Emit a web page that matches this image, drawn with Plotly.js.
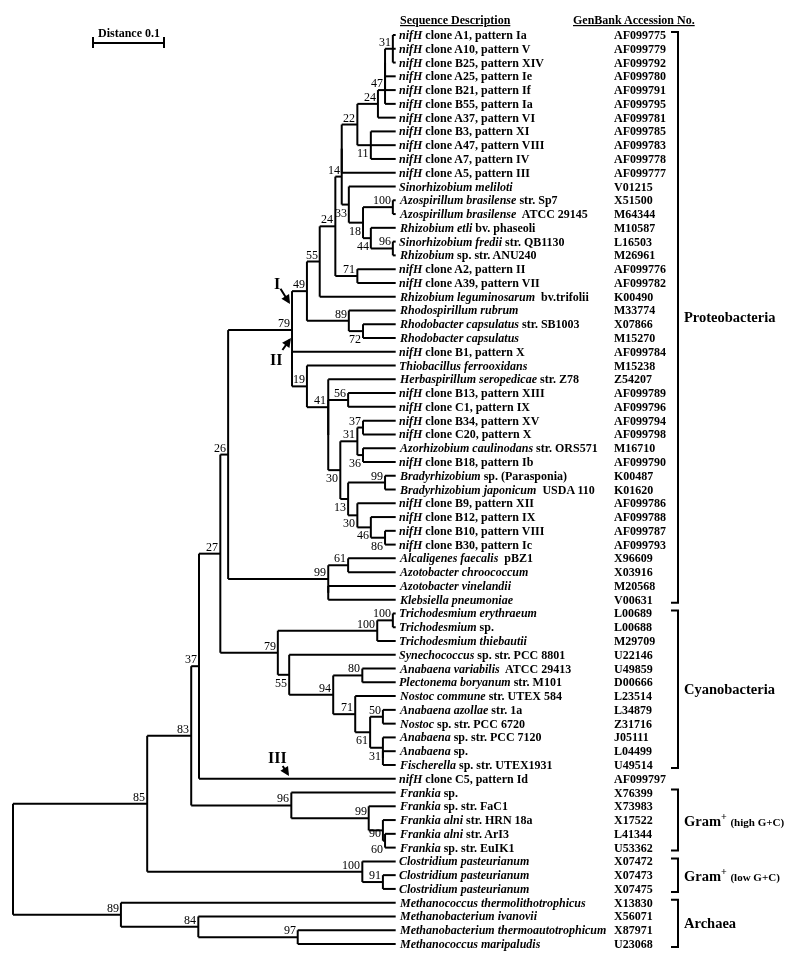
<!DOCTYPE html>
<html><head><meta charset="utf-8">
<script src="https://cdn.plot.ly/plotly-3.0.1.min.js"></script>
<style>html,body{margin:0;padding:0;background:#fff} .main-svg{will-change:transform}</style>
</head><body><div id="chart" style="width:800px;height:959px"></div>
<script>
// ---- DATA ----
const leafNames = [
"<i>nifH</i> clone A1, pattern Ia","<i>nifH</i> clone A10, pattern V","<i>nifH</i> clone B25, pattern XIV",
"<i>nifH</i> clone A25, pattern Ie","<i>nifH</i> clone B21, pattern If","<i>nifH</i> clone B55, pattern Ia",
"<i>nifH</i> clone A37, pattern VI","<i>nifH</i> clone B3, pattern XI","<i>nifH</i> clone A47, pattern VIII",
"<i>nifH</i> clone A7, pattern IV","<i>nifH</i> clone A5, pattern III","<i>Sinorhizobium meliloti</i>",
"<i>Azospirillum brasilense</i> str. Sp7","<i>Azospirillum brasilense</i>&nbsp; ATCC 29145","<i>Rhizobium etli</i> bv. phaseoli",
"<i>Sinorhizobium fredii</i> str. QB1130","<i>Rhizobium</i> sp. str. ANU240","<i>nifH</i> clone A2, pattern II",
"<i>nifH</i> clone A39, pattern VII","<i>Rhizobium leguminosarum</i>&nbsp; bv.trifolii","<i>Rhodospirillum rubrum</i>",
"<i>Rhodobacter capsulatus</i> str. SB1003","<i>Rhodobacter capsulatus</i>","<i>nifH</i> clone B1, pattern X",
"<i>Thiobacillus ferrooxidans</i>","<i>Herbaspirillum seropedicae</i> str. Z78","<i>nifH</i> clone B13, pattern XIII",
"<i>nifH</i> clone C1, pattern IX","<i>nifH</i> clone B34, pattern XV","<i>nifH</i> clone C20, pattern X",
"<i>Azorhizobium caulinodans</i> str. ORS571","<i>nifH</i> clone B18, pattern Ib","<i>Bradyrhizobium</i> sp. (Parasponia)",
"<i>Bradyrhizobium japonicum</i>&nbsp; USDA 110","<i>nifH</i> clone B9, pattern XII","<i>nifH</i> clone B12, pattern IX",
"<i>nifH</i> clone B10, pattern VIII","<i>nifH</i> clone B30, pattern Ic","<i>Alcaligenes faecalis</i>&nbsp; pBZ1",
"<i>Azotobacter chroococcum</i>","<i>Azotobacter vinelandii</i>","<i>Klebsiella pneumoniae</i>",
"<i>Trichodesmium erythraeum</i>","<i>Trichodesmium</i> sp.","<i>Trichodesmium thiebautii</i>",
"<i>Synechococcus</i> sp. str. PCC 8801","<i>Anabaena variabilis</i>&nbsp; ATCC 29413","<i>Plectonema boryanum</i> str. M101",
"<i>Nostoc commune</i> str. UTEX 584","<i>Anabaena azollae</i> str. 1a","<i>Nostoc</i> sp. str. PCC 6720",
"<i>Anabaena</i> sp. str. PCC 7120","<i>Anabaena</i> sp.","<i>Fischerella</i> sp. str. UTEX1931",
"<i>nifH</i> clone C5, pattern Id","<i>Frankia</i> sp.","<i>Frankia</i> sp. str. FaC1",
"<i>Frankia alni</i> str. HRN 18a","<i>Frankia alni</i> str. ArI3","<i>Frankia</i> sp. str. EuIK1",
"<i>Clostridium pasteurianum</i>","<i>Clostridium pasteurianum</i>","<i>Clostridium pasteurianum</i>",
"<i>Methanococcus thermolithotrophicus</i>","<i>Methanobacterium ivanovii</i>","<i>Methanobacterium thermoautotrophicum</i>",
"<i>Methanococcus maripaludis</i>"];

const accessions = ["AF099775","AF099779","AF099792","AF099780","AF099791","AF099795","AF099781","AF099785","AF099783",
"AF099778","AF099777","V01215","X51500","M64344","M10587","L16503","M26961","AF099776","AF099782","K00490","M33774",
"X07866","M15270","AF099784","M15238","Z54207","AF099789","AF099796","AF099794","AF099798","M16710","AF099790",
"K00487","K01620","AF099786","AF099788","AF099787","AF099793","X96609","X03916","M20568","V00631","L00689","L00688",
"M29709","U22146","U49859","D00666","L23514","L34879","Z31716","J05111","L04499","U49514","AF099797","X76399",
"X73983","X17522","L41344","U53362","X07472","X07473","X07475","X13830","X56071","X87971","U23068"];

const groupNames = ["Proteobacteria","Cyanobacteria","Gram<sup>+</sup> <span style='font-size:11px'>(high G+C)</span>",
                    "Gram<sup>+</sup> <span style='font-size:11px'>(low G+C)</span>","Archaea"];
const groupFirst = [0, 42, 55, 60, 63];
const groupLast  = [41, 53, 59, 62, 66];

const tipDistance = 0.539;   // distance of aligned tips from root
const scaleBarLength = 0.1;

// tree: [distance from root, bootstrap, label side (a=above,b=below,c=centred), children]; leaves are leaf indices
const treeTopology =
[0,'','',[
  [0.189,'85','a',[
    [0.251,'83','a',[
      [0.262,'37','a',[
        [0.292,'27','a',[
          [0.303,'26','a',[
            [0.393,'79','a',[
              [0.414,'49','a',[
                [0.432,'55','a',[
                  [0.454,'24','a',[
                    [0.463,'14','a',[
                      [0.463,'','',[
                        [0.485,'22','a',[
                          [0.514,'24','a',[
                            [0.524,'47','a',[[0.524,'','',[[0.524,'','',[[0.535,'31','a',[0,1,2]],3]],4]],5]],
                            6]],
                          [0.504,'11','b',[7,8,9]]]],
                        10]],
                      [0.473,'33','b',[11,
                        [0.493,'18','b',[
                          [0.535,'100','a',[12,13]],
                          [0.504,'44','b',[14,[0.535,'96','a',[15,16]]]]]]]]]],
                    [0.485,'71','a',[17,18]]]],
                  19]],
                [0.473,'89','a',[20,[0.493,'72','b',[21,22]]]]]],
              [0.393,'','',[23,
                [0.414,'19','a',[24,
                  [0.444,'41','a',[25,
                    [0.444,'','',[
                      [0.472,'56','a',[26,27]],
                      [0.461,'30','b',[
                        [0.485,'31','a',[[0.493,'37','a',[28,29]],[0.493,'36','b',[30,31]]]],
                        [0.472,'13','b',[
                          [0.524,'99','a',[32,33]],
                          [0.485,'30','b',[34,[0.504,'46','b',[35,[0.524,'86','b',[36,37]]]]]]]]]]]]]]]]]]]],
            [0.444,'99','a',[[0.472,'61','a',[38,39]],[0.444,'','',[40,41]]]]]],
          [0.373,'79','a',[
            [0.513,'100','a',[[0.535,'100','a',[42,43]],44]],
            [0.389,'55','b',[45,
              [0.451,'94','a',[
                [0.492,'80','a',[46,47]],
                [0.482,'71','a',[48,
                  [0.503,'61','b',[
                    [0.521,'50','a',[49,50]],
                    [0.521,'31','b',[51,[0.521,'','',[52,53]]]]]]]]]]]]]]]],
        54]],
      [0.392,'96','a',[55,[0.501,'99','a',[56,[0.521,'90','c',[57,[0.524,'60','b',[58,59]]]]]]]]]],
    [0.492,'100','a',[60,[0.521,'91','a',[61,62]]]]]],
  [0.152,'89','a',[63,[0.261,'84','a',[64,[0.401,'97','a',[65,66]]]]]]]];

// ---- GEOMETRY (page mapping) ----
const W = 800, H = 959;
const PXU = 710, X0 = 13, Y0 = 35, DY = 13.773;
const px2x = p => (p - X0) / PXU;
const px2y = p => (p - Y0) / DY;
const FONT = "Liberation Serif, Times New Roman, serif";

const lx = [], ly = [];
const annotations = [];
function layout(n) {
  if (typeof n === 'number') return {x: tipDistance, y: n};
  const [d, lab, side, kids] = n;
  const ks = kids.map(layout);
  const y0 = ks[0].y, y1 = ks[ks.length - 1].y;
  const y = (y0 + y1) / 2;
  lx.push(d, d, null); ly.push(y0, y1, null);
  ks.forEach(k => { lx.push(d, k.x, null); ly.push(k.y, k.y, null); });
  if (lab) annotations.push({x: d, y: y, xref: 'x', yref: 'y', text: lab, showarrow: false,
    xanchor: 'right', yanchor: side === 'a' ? 'bottom' : (side === 'b' ? 'top' : 'middle'), xshift: -1,
    yshift: side === 'a' ? -1 : (side === 'b' ? 0 : -3),
    borderpad: 0, font: {family: FONT, size: 12, color: '#000'}});
  return {x: d, y: y};
}
layout(treeTopology);

leafNames.forEach((t, i) => {
  annotations.push({x: tipDistance, y: i, xref: 'x', yref: 'y', text: '<b>' + t + '</b>', showarrow: false,
    xanchor: 'left', yanchor: 'middle', xshift: 2, borderpad: 0, font: {family: FONT, size: 12, color: '#000'}});
  annotations.push({x: 613 / W, y: i, xref: 'paper', yref: 'y', text: '<b>' + accessions[i] + '</b>', showarrow: false,
    xanchor: 'left', yanchor: 'middle', borderpad: 0, font: {family: FONT, size: 12, color: '#000'}});
});

annotations.push({x: 399 / W, y: 1 - 20 / H, xref: 'paper', yref: 'paper', text: '<b><u>Sequence Description</u></b>',
  showarrow: false, xanchor: 'left', yanchor: 'middle', borderpad: 0, font: {family: FONT, size: 12, color: '#000'}});
annotations.push({x: 572 / W, y: 1 - 20 / H, xref: 'paper', yref: 'paper', text: '<b><u>GenBank Accession No.</u></b>',
  showarrow: false, xanchor: 'left', yanchor: 'middle', borderpad: 0, font: {family: FONT, size: 12, color: '#000'}});

const shapes = [];
const line = {color: '#000', width: 2};
groupNames.forEach((g, k) => {
  const ya = groupFirst[k] - 3 / DY, yb = groupLast[k] + 3 / DY;
  shapes.push({type: 'path', xref: 'paper', yref: 'y',
    path: `M ${671/W} ${ya} L ${678/W} ${ya} L ${678/W} ${yb} L ${671/W} ${yb}`, line: line});
  annotations.push({x: 683 / W, y: (groupFirst[k] + groupLast[k]) / 2, xref: 'paper', yref: 'y',
    text: '<b>' + g + '</b>', showarrow: false, xanchor: 'left', yanchor: 'middle', borderpad: 0,
    font: {family: FONT, size: 14.5, color: '#000'}});
});

// scale bar
const sb0 = px2x(93);
shapes.push({type: 'line', xref: 'x', yref: 'paper', x0: sb0, x1: sb0 + scaleBarLength, y0: 1 - 43 / H, y1: 1 - 43 / H, line: line});
shapes.push({type: 'line', xref: 'x', yref: 'paper', x0: sb0, x1: sb0, y0: 1 - 37 / H, y1: 1 - 48 / H, line: line});
shapes.push({type: 'line', xref: 'x', yref: 'paper', x0: sb0 + scaleBarLength, x1: sb0 + scaleBarLength, y0: 1 - 37 / H, y1: 1 - 48 / H, line: line});
annotations.push({x: sb0 + scaleBarLength / 2, y: 1 - 33 / H, xref: 'x', yref: 'paper', text: '<b>Distance 0.1</b>',
  showarrow: false, xanchor: 'center', yanchor: 'middle', borderpad: 0, font: {family: FONT, size: 12, color: '#000'}});

// arrows I, II, III : [label, text centre px, arrow head px]
const arrows = [["I", 277, 283, 290, 304], ["II", 276, 359, 291, 338], ["III", 277, 757, 289, 776]];
arrows.forEach(([t, tx, ty, hx, hy]) => {
  annotations.push({x: px2x(hx), y: px2y(hy), xref: 'x', yref: 'y', text: '<b>' + t + '</b>', showarrow: true,
    axref: 'x', ayref: 'y', ax: px2x(tx), ay: px2y(ty), arrowhead: 2, arrowsize: 0.9, arrowwidth: 2,
    arrowcolor: '#000', standoff: 0, borderpad: 0, font: {family: FONT, size: 16, color: '#000'}});
});

const data = [{type: 'scatter', mode: 'lines', x: lx, y: ly, line: {color: '#000', width: 2}, hoverinfo: 'skip', connectgaps: false}];

Plotly.newPlot('chart', data, {
  width: W, height: H, margin: {l: 0, r: 0, t: 0, b: 0}, showlegend: false,
  paper_bgcolor: '#fff', plot_bgcolor: '#fff',
  xaxis: {range: [px2x(0), px2x(W)], visible: false, fixedrange: true},
  yaxis: {range: [px2y(H), px2y(0)], visible: false, fixedrange: true},
  shapes: shapes, annotations: annotations
}, {staticPlot: true});
</script></body></html>
